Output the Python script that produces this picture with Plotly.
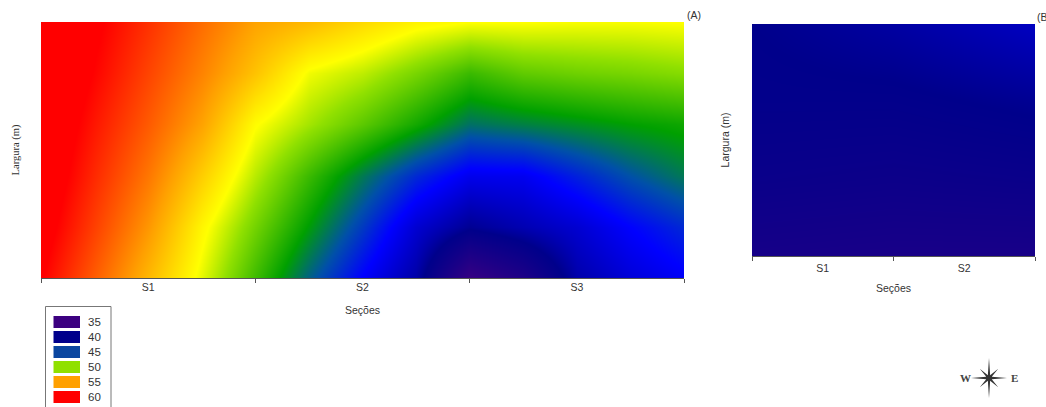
import math
import plotly.graph_objects as go

W, H = 1046, 407

# Chart A data (rows run from the bottom of the panel to the top)
a_x = [0, 0.25, 0.5, 0.75, 1, 1.25, 1.5, 1.75, 2, 2.25, 2.5, 2.75, 3]
a_y = [0, 1, 2, 3, 4, 5]
a_z = [
    [60.1, 57.1, 54.2, 51.3, 48.3, 45.4, 42.9, 40.7, 35.5, 37.5, 40.8, 42.0, 42.8],
    [60.8, 58.0, 55.3, 52.0, 49.4, 46.9, 44.4, 41.8, 40.2, 41.0, 41.8, 43.0, 44.0],
    [61.3, 58.7, 56.3, 53.4, 50.6, 48.2, 46.0, 44.0, 42.5, 42.6, 43.8, 45.0, 46.0],
    [61.6, 59.3, 57.2, 54.9, 51.8, 50.3, 48.9, 47.4, 45.8, 46.2, 46.6, 47.0, 47.3],
    [62.0, 59.9, 57.9, 55.9, 53.8, 51.5, 50.7, 49.5, 48.2, 49.0, 49.3, 49.5, 49.8],
    [62.0, 60.3, 58.5, 56.6, 54.9, 54.1, 53.0, 52.1, 51.7, 51.7, 51.6, 51.6, 51.7],
]
# Chart B data
b_x = [0, 1, 2]
b_y = [0, 1, 2, 3]
b_z = [
    [38.2, 38.0, 38.0],
    [39.2, 39.0, 39.2],
    [39.8, 39.8, 40.2],
    [40.0, 40.6, 41.4],
]
a_sections = ["S1", "S2", "S3"]
b_sections = ["S1", "S2"]
legend_values = [35, 40, 45, 50, 55, 60]
legend_colors = ["#3c0080", "#00008b", "#0a46a0", "#90e000", "#ffa000", "#ff0000"]

scale_min, scale_max = 35, 60
stops = [(35, "#3c0082"), (40, "#00008b"), (43, "#0000ff"), (45, "#0050a8"),
         (47, "#00a000"), (50, "#90e000"), (51.7, "#ffff00"), (55, "#ffa000"),
         (60, "#ff0000")]
colorscale = [[(v - scale_min) / (scale_max - scale_min), c] for v, c in stops]


def px(x):
    return x / W


def py(y):
    return 1 - y / H


fig = go.Figure()
common = dict(colorscale=colorscale, zmin=scale_min, zmax=scale_max, zsmooth="best",
              showscale=False, hoverinfo="skip")
fig.add_trace(go.Heatmap(x=a_x, y=a_y, z=a_z, xaxis="x", yaxis="y", **common))
fig.add_trace(go.Heatmap(x=b_x, y=b_y, z=b_z, xaxis="x2", yaxis="y2", **common))

font = dict(family="Liberation Sans, Arial, sans-serif", size=10.5, color="#333333")
serif = dict(family="Liberation Serif, serif", size=10.5, color="#333333")


def xaxis(domain, labels, anchor, label_standoff, title_standoff):
    n = len(labels)
    return dict(domain=domain, range=[0, n], anchor=anchor, tickmode="array",
                tickvals=[i + 0.5 for i in range(n)], ticktext=labels, ticks="",
                showgrid=False, zeroline=False, showline=True, linecolor="#555555", linewidth=1,
                tickfont=font, ticklabelstandoff=label_standoff,
                minor=dict(tickmode="array", tickvals=list(range(n + 1)), ticks="outside",
                           ticklen=4, tickcolor="#555555", showgrid=False),
                title=dict(text="Seções", font=font, standoff=title_standoff))


def yaxis(domain, top, anchor, title_font, standoff):
    return dict(domain=domain, range=[0, top], anchor=anchor, showticklabels=False, ticks="",
                showgrid=False, zeroline=False, showline=False,
                title=dict(text="Largura (m)", font=title_font, standoff=standoff))


xa = xaxis([px(41), px(684)], a_sections, "y", -1, 15)
xb = xaxis([px(752), px(1035)], b_sections, "y2", 2, 12)
ya = yaxis([py(278), py(22)], 5, "x", serif, 18)
yb = yaxis([py(256), py(24)], 3, "x2", font, 19)

shapes, annotations = [], []
# Panel letters
for text, x, y in [("(A)", 685, 15), ("(B)", 1035, 17)]:
    annotations.append(dict(text=text, x=px(x), y=py(y), xref="paper", yref="paper", xanchor="left",
                            yanchor="middle", showarrow=False, font=font))
# Legend box
shapes.append(dict(type="rect", xref="paper", yref="paper", x0=px(45.5), x1=px(111), y0=py(306.5), y1=py(410),
                   line=dict(color="#777777", width=1), fillcolor="white"))
for i, (v, c) in enumerate(zip(legend_values, legend_colors)):
    yc = 322 + 15 * i
    shapes.append(dict(type="rect", xref="paper", yref="paper", x0=px(53.5), x1=px(80), y0=py(yc + 6), y1=py(yc - 6),
                       line=dict(width=0), fillcolor=c))
    annotations.append(dict(text=str(v), x=px(85.5), y=py(yc), xref="paper", yref="paper", xanchor="left",
                            yanchor="middle", showarrow=False,
                            font=dict(family=font["family"], size=11.5, color="#333333")))
# Compass rose
cx, cy = 989, 378
pts = []
for k in range(16):
    ang = k * math.pi / 8
    if k % 2:
        r = 3.0
    elif k % 4 == 0:
        r = 20 if k % 8 == 0 else 18
    else:
        r = 13
    pts.append((cx + r * math.sin(ang), cy - r * math.cos(ang)))
path = "M" + "L".join(f"{px(a):.5f},{py(b):.5f}" for a, b in pts) + "Z"
shapes.append(dict(type="path", xref="paper", yref="paper", path=path, fillcolor="#333333", line=dict(width=0)))
for text, x in [("W", 965), ("E", 1014)]:
    annotations.append(dict(text=f"<b>{text}</b>", x=px(x), y=py(cy), xref="paper", yref="paper",
                            xanchor="center", yanchor="middle", showarrow=False,
                            font=dict(family="Liberation Serif, serif", size=11, color="#444444")))

fig.update_layout(width=W, height=H, margin=dict(l=0, r=0, t=0, b=0), paper_bgcolor="white",
                  plot_bgcolor="white", showlegend=False, xaxis=xa, yaxis=ya, xaxis2=xb, yaxis2=yb,
                  shapes=shapes, annotations=annotations, font=font)
fig.write_html("out.html", config={"displayModeBar": False},
               post_script="document.body.style.margin='0';document.documentElement.style.overflow='hidden';")
